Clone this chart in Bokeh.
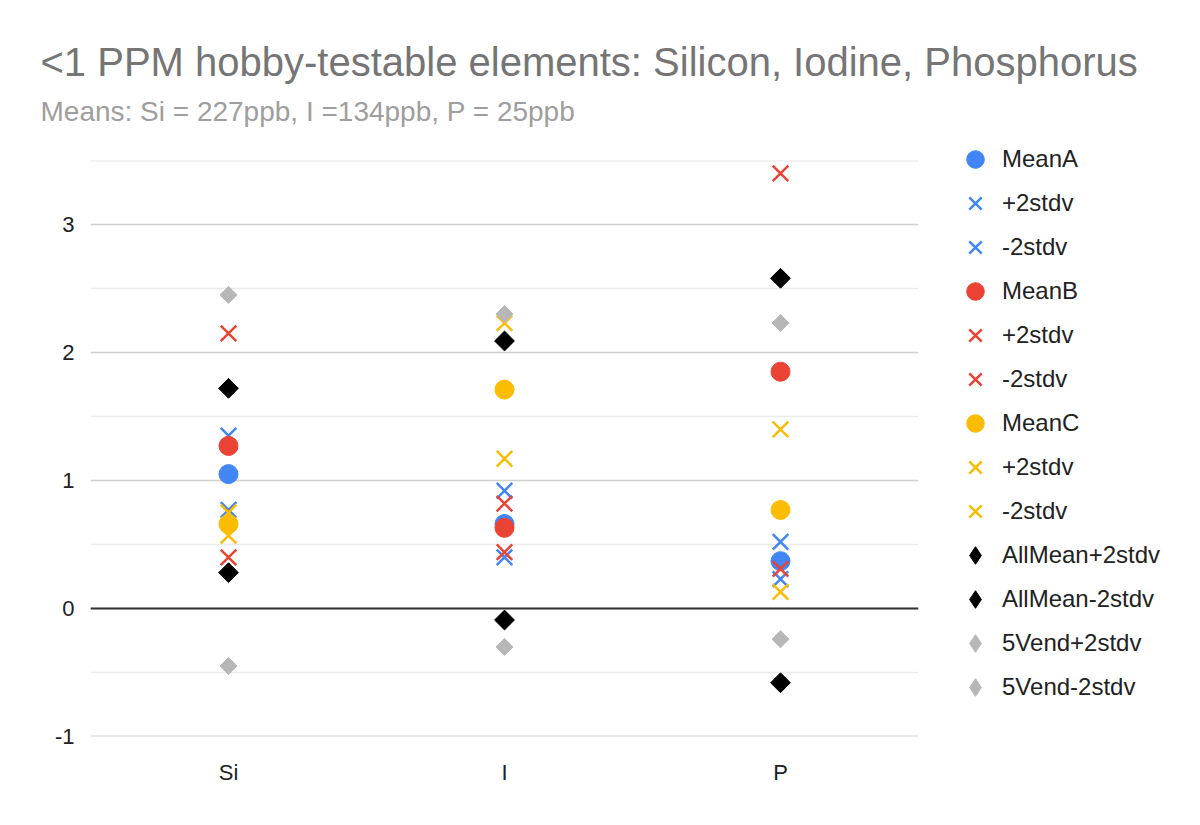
import math
from bokeh.plotting import figure
from bokeh.models import (FactorRange, FixedTicker, Legend, LegendItem, Span, Title,
                          ColumnDataSource)
from bokeh.embed import file_html
from bokeh.resources import INLINE

# ---- data ----
categories = ["Si", "I", "P"]
mean_a = [1.05, 0.66, 0.37]
a_plus = [1.35, 0.92, 0.52]
a_minus = [0.77, 0.40, 0.23]
mean_b = [1.27, 0.63, 1.85]
b_plus = [2.15, 0.82, 3.40]
b_minus = [0.40, 0.44, 0.31]
mean_c = [0.66, 1.71, 0.77]
c_plus = [0.75, 2.23, 1.40]
c_minus = [0.57, 1.17, 0.13]
all_plus = [1.72, 2.09, 2.58]
all_minus = [0.28, -0.09, -0.58]
vend_plus = [2.45, 2.30, 2.23]
vend_minus = [-0.45, -0.30, -0.24]
y_ticks = [-1, 0, 1, 2, 3]
y_minor = [-0.5, 0.5, 1.5, 2.5, 3.5]
y_tick_labels = {-1: "-1", 0: "0", 1: "1", 2: "2", 3: "3"}

title_text = "<1 PPM hobby-testable elements: Silicon, Iodine, Phosphorus"
subtitle_text = "Means: Si = 227ppb, I =134ppb, P = 25ppb"

BLUE = "#4285F4"
RED = "#EA4335"
YELLOW = "#FBBC04"
BLACK = "#000000"
GRAY = "#B7B7B7"
FONT = "Liberation Sans"

p = figure(x_range=FactorRange(*categories, range_padding=0),
           y_range=(y_ticks[0], y_minor[-1]),
           frame_width=828, frame_height=576,
           output_backend="svg", toolbar_location=None,
           min_border_left=90, min_border_right=282, min_border_bottom=89,
           min_border_top=160, outline_line_color=None, background_fill_color="white",
           border_fill_color="white")

# titles (subtitle nearest the frame)
p.add_layout(Title(text=subtitle_text, text_font=FONT, text_font_size="28px",
                   text_color="#9E9E9E", text_font_style="normal",
                   offset=-50, standoff=68), "above")
p.add_layout(Title(text=title_text, text_font=FONT, text_font_size="40px",
                   text_color="#757575", text_font_style="normal",
                   offset=-50, standoff=-48), "above")

# axes
p.yaxis.ticker = FixedTicker(ticks=y_ticks, minor_ticks=y_minor)
p.yaxis.major_label_overrides = y_tick_labels
p.yaxis.axis_line_color = None
p.yaxis.major_tick_line_color = None
p.yaxis.minor_tick_line_color = None
p.yaxis.major_tick_out = 0
p.yaxis.major_label_text_font = FONT
p.yaxis.major_label_text_font_size = "22px"
p.yaxis.major_label_text_color = "#222222"
p.yaxis.major_label_standoff = 12

p.xaxis.axis_line_color = None
p.xaxis.major_tick_line_color = None
p.xaxis.major_label_text_font = FONT
p.xaxis.major_label_text_font_size = "22px"
p.xaxis.major_label_text_color = "#222222"
p.xaxis.major_label_standoff = 17

p.xgrid.grid_line_color = None
p.ygrid.grid_line_color = "#D0D0D0"
p.ygrid.grid_line_width = 1.5
p.ygrid.minor_grid_line_color = "#EBEBEB"
p.ygrid.minor_grid_line_width = 1.5

# grid lines lying on the frame edges (would be clipped otherwise)
p.add_layout(Span(location=y_minor[-1], dimension="width", line_color="#E6E6E6", line_width=2))
p.add_layout(Span(location=y_ticks[0], dimension="width", line_color="#D0D0D0", line_width=2))
p.add_layout(Span(location=0, dimension="width", line_color="#333333", line_width=2))

src = ColumnDataSource(dict(cat=categories, mean_a=mean_a, a_plus=a_plus, a_minus=a_minus,
                            mean_b=mean_b, b_plus=b_plus, b_minus=b_minus,
                            mean_c=mean_c, c_plus=c_plus, c_minus=c_minus,
                            all_plus=all_plus, all_minus=all_minus,
                            vend_plus=vend_plus, vend_minus=vend_minus))

series = [
    ("mean_a", "MeanA", "circle", BLUE, 19),
    ("a_plus", "+2stdv", "x", BLUE, 22),
    ("a_minus", "-2stdv", "x", BLUE, 22),
    ("mean_b", "MeanB", "circle", RED, 19),
    ("b_plus", "+2stdv", "x", RED, 22),
    ("b_minus", "-2stdv", "x", RED, 22),
    ("mean_c", "MeanC", "circle", YELLOW, 19),
    ("c_plus", "+2stdv", "x", YELLOW, 22),
    ("c_minus", "-2stdv", "x", YELLOW, 22),
    ("all_plus", "AllMean+2stdv", "square", BLACK, 14),
    ("all_minus", "AllMean-2stdv", "square", BLACK, 14),
    ("vend_plus", "5Vend+2stdv", "square", GRAY, 12),
    ("vend_minus", "5Vend-2stdv", "square", GRAY, 12),
]

items = []
for col, label, marker, color, size in series:
    if marker == "x":
        r = p.scatter("cat", col, source=src, marker="x", size=size,
                      line_color=color, line_width=2.5)
        items.append(LegendItem(label=label, renderers=[r]))
    elif marker == "square":
        r = p.scatter("cat", col, source=src, marker="square", size=size, angle=math.pi / 4,
                      fill_color=color, line_color=color, line_width=1)
        # legend proxy (not drawn in the plot) so that the key shows a diamond
        proxy = p.scatter("cat", col, source=src, marker="diamond", size=size,
                          fill_color=color, line_color=color, line_width=1, visible=False)
        items.append(LegendItem(label=label, renderers=[proxy]))
    else:
        r = p.scatter("cat", col, source=src, marker="circle", size=size,
                      fill_color=color, line_color=color, line_width=1)
        items.append(LegendItem(label=label, renderers=[r]))

legend = Legend(items=items, location=(35, 27), orientation="vertical",
                label_text_font=FONT, label_text_font_size="24px",
                label_text_color="#222222", glyph_width=44, glyph_height=44,
                label_height=20, spacing=0, label_standoff=5, padding=0, margin=0,
                border_line_color=None, background_fill_alpha=0,
                inactive_fill_alpha=0)
p.add_layout(legend, "right")

open("out.html", "w").write(file_html(p, INLINE))
